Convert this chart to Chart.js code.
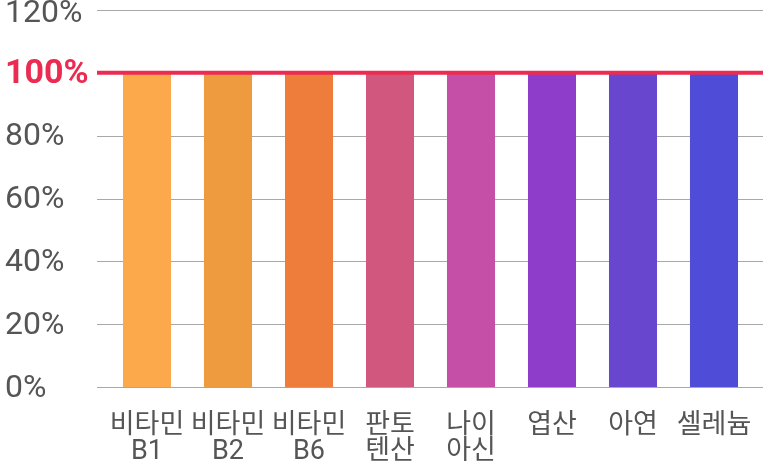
<!DOCTYPE html>
<html lang="ko">
<head>
<meta charset="utf-8">
<script src="https://cdn.jsdelivr.net/npm/chart.js@4"></script>
<style>
  html, body { margin: 0; padding: 0; background: #fff; }
  #wrap { width: 763px; height: 461px; }
</style>
</head>
<body>
<div id="wrap"><canvas id="chart"></canvas></div>
<script>
// 영양소별 충족률 (%)
const nutrients = [
  ["비타민", "B1"],
  ["비타민", "B2"],
  ["비타민", "B6"],
  ["판토", "텐산"],
  ["나이", "아신"],
  "엽산",
  "아연",
  "셀레늄",
];
const ratios = [100, 100, 100, 100, 100, 100, 100, 100];
const barColors = [
  "#fba94a", "#ee9a3e", "#ee7d3c", "#d1577f",
  "#c54fa6", "#8e3dca", "#6846cd", "#4f4cd8",
];
const yTicks = [0, 20, 40, 60, 80, 100, 120];
const targetValue = 100;

const RED = "#eb2b52";
const GRID = "#a8a8a8";

// 격자선: 축 영역 밖으로 조금 길게
const gridPlugin = {
  id: "gridLines",
  beforeDatasetsDraw(chart) {
    const { ctx, chartArea, scales } = chart;
    ctx.save();
    ctx.strokeStyle = GRID;
    ctx.lineWidth = 1;
    yTicks.forEach((v) => {
      if (v === targetValue) return;
      const y = Math.round(scales.y.getPixelForValue(v)) + 0.5;
      ctx.beginPath();
      ctx.moveTo(chartArea.left - 9.5, y);
      ctx.lineTo(chart.width, y);
      ctx.stroke();
    });
    ctx.restore();
  },
  afterDatasetsDraw(chart) {
    const { ctx, chartArea, scales } = chart;
    const y = scales.y.getPixelForValue(targetValue);
    ctx.save();
    ctx.strokeStyle = RED;
    ctx.lineWidth = 4;
    ctx.beginPath();
    ctx.moveTo(chartArea.left - 9.5, y);
    ctx.lineTo(chart.width, y);
    ctx.stroke();
    ctx.restore();
  },
};

const yMax = yTicks[yTicks.length - 1];

new Chart(document.getElementById("chart"), {
  type: "bar",
  data: {
    labels: nutrients,
    datasets: [
      {
        data: ratios,
        backgroundColor: barColors,
        barPercentage: 1,
        categoryPercentage: 0.593,
      },
    ],
  },
  options: {
    responsive: true,
    maintainAspectRatio: false,
    animation: false,
    layout: { padding: { top: 10, right: 8.5, left: 5, bottom: 0 } },
    scales: {
      x: {
        grid: { display: false, drawTicks: false },
        border: { display: false },
        ticks: {
          color: "#555",
          padding: 26,
          maxRotation: 0,
          autoSkip: false,
          font: { family: 'Roboto, "Noto Sans CJK KR"', size: 27, lineHeight: 0.96 },
        },
        afterFit(scale) {
          scale.height = 74;
          scale.paddingLeft = 0;
          scale.paddingRight = 0;
        },
      },
      y: {
        min: 0,
        max: yMax,
        afterBuildTicks(scale) {
          scale.ticks = yTicks.map((v) => ({ value: v }));
        },
        grid: { display: false, drawTicks: false },
        border: { display: false },
        ticks: {
          crossAlign: "far",
          padding: 0,
          labelOffset: 1.5,
          // 맨 위 눈금 글자는 잘리지 않도록 살짝 아래로
          callback: (v) => (v === yMax ? ["", v + "%"] : v + "%"),
          color: (c) => (c.tick && c.tick.value === targetValue ? RED : "#555"),
          font: (c) => {
            const v = c.tick ? c.tick.value : null;
            return {
              family: "Roboto",
              size: v === targetValue ? 34 : 32,
              lineHeight: v === yMax ? "4px" : 1,
              weight: v === targetValue ? "bold" : "normal",
            };
          },
        },
        afterFit(scale) {
          scale.width = 101.5;
          scale.paddingTop = 0;
          scale.paddingBottom = 0;
        },
      },
    },
    plugins: {
      legend: { display: false },
      tooltip: { enabled: false },
    },
  },
  plugins: [gridPlugin],
});
</script>
</body>
</html>
